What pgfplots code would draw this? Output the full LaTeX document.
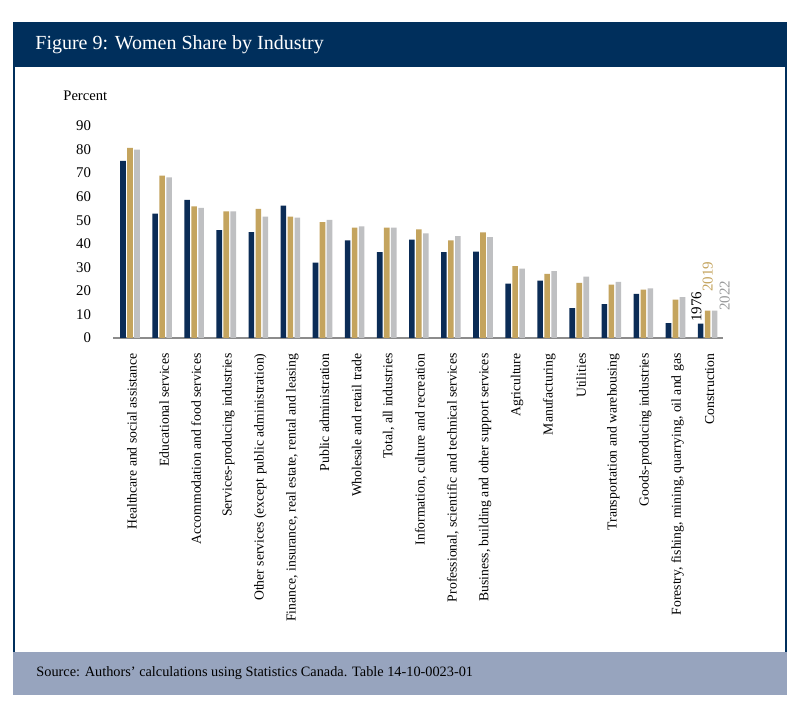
\documentclass[border=0pt]{standalone}
\usepackage{fontspec}
\setmainfont{Liberation Serif}
\usepackage{pgfplots}
\pgfplotsset{compat=1.18}
\usepackage{pgfplotstable}
\definecolor{navy}{HTML}{0B2C56}
\definecolor{band}{HTML}{002F5C}
\definecolor{gold}{HTML}{C4A45E}
\definecolor{lgray}{HTML}{BFC0C2}
\definecolor{foot}{HTML}{97A4BE}
\pgfplotstableread{
x a b c
0 75.2 80.7 80.0
1 52.8 68.9 68.2
2 58.6 55.9 55.2
3 45.8 53.8 53.8
4 44.9 54.8 51.5
5 56.2 51.5 51.1
6 32.0 49.2 50.1
7 41.4 46.9 47.4
8 36.5 46.9 46.9
9 41.8 46.1 44.4
10 36.5 41.4 43.2
11 36.7 44.8 42.8
12 23.1 30.5 29.5
13 24.4 27.2 28.4
14 12.7 23.4 26.0
15 14.4 22.7 23.8
16 18.7 20.5 21.1
17 6.3 16.3 17.3
18 6.1 11.6 11.6
}\datatable
\begin{document}
\begin{tikzpicture}
\useasboundingbox (0pt,0pt) rectangle (400pt,360.5pt);
\fill[white] (0pt,0pt) rectangle (400pt,360.5pt);
\fill[band] (6.5pt,349.5pt) rectangle (393.5pt,327pt);
\fill[foot] (6.5pt,34.5pt) rectangle (393.5pt,13pt);
\draw[band, line width=0.6pt] (7pt,327pt) -- (7pt,34.5pt);
\draw[band, line width=0.6pt] (393pt,327pt) -- (393pt,34.5pt);
\node[anchor=west, text=white, inner sep=0, font=\fontsize{10}{12}\selectfont] at (17.5pt,338pt) {Figure 9: Women Share by Industry};
\node[anchor=west, inner sep=0, font=\fontsize{7.15}{8}\selectfont] at (18pt,24pt) {Source: Authors’ calculations using Statistics Canada. Table 14-10-0023-01};
\node[anchor=west, inner sep=0, font=\fontsize{7.3}{9}\selectfont] at (31.5pt,312.5pt) {Percent};
\begin{axis}[
  at={(56.5pt,191.5pt)}, anchor=south west,
  scale only axis, width=305pt, height=106pt,
  xmin=-0.53, xmax=18.48, ymin=0, ymax=90,
  axis x line*=bottom, axis y line*=left,
  x axis line style={-, draw=black!45, line width=0.75pt},
  y axis line style={draw=none},
  xtick style={draw=none}, ytick style={draw=none},
  ytick={0,10,...,90},
  xtick={0,...,18},
  /pgf/number format/assume math mode=true,
  yticklabel style={font=\fontsize{7.4}{9}\selectfont, xshift=-7.5pt},
  xticklabel style={rotate=90, anchor=east, font=\fontsize{6.85}{8}\selectfont, yshift=-1pt},
  xticklabels={{Healthcare and social assistance},{Educational services},{Accommodation and food services},{Services-producing industries},{Other services (except public administration)},{Finance, insurance, real estate, rental and leasing},{Public administration},{Wholesale and retail trade},{Total, all industries},{Information, culture and recreation},{Professional, scientific and technical services},{Business, building and other support services},{Agriculture},{Manufacturing},{Utilities},{Transportation and warehousing},{Goods-producing industries},{Forestry, fishing, mining, quarrying, oil and gas},{Construction}},
  ybar, bar width=2.8pt,
  clip=false,
]
\addplot[fill=navy, draw=none, bar shift=-3.5pt] table[x=x,y=a] {\datatable};
\addplot[fill=gold, draw=none, bar shift=0pt] table[x=x,y=b] {\datatable};
\addplot[fill=lgray, draw=none, bar shift=3.5pt] table[x=x,y=c] {\datatable};
\node[rotate=90, anchor=west, inner sep=0, text=black, font=\fontsize{7.5}{8}\selectfont] at (axis cs:17.65,6.8) {1976};
\node[rotate=90, anchor=west, inner sep=0, text=gold, font=\fontsize{7.5}{8}\selectfont] at (axis cs:18.0,19.5) {2019};
\node[rotate=90, anchor=west, inner sep=0, text=lgray!80!black, font=\fontsize{7.5}{8}\selectfont] at (axis cs:18.53,11.5) {2022};
\end{axis}
\end{tikzpicture}
\end{document}
